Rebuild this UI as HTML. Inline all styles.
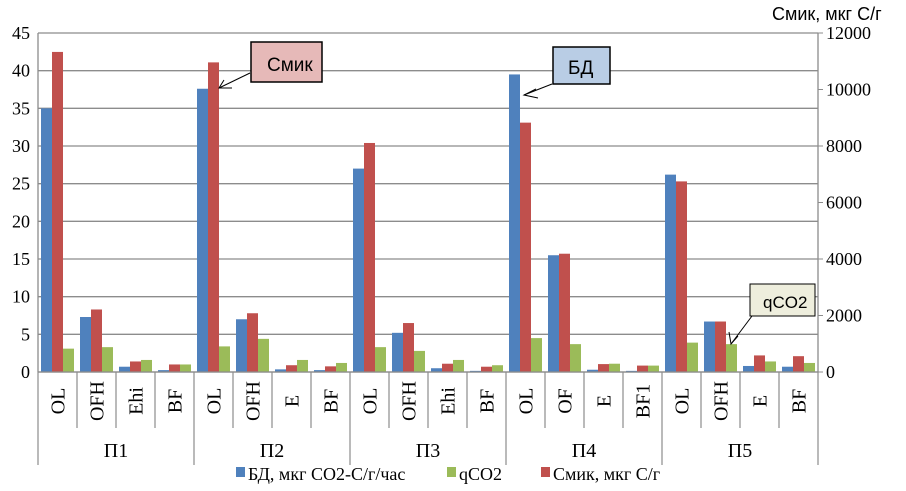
<!DOCTYPE html>
<html><head><meta charset="utf-8"><style>
body{margin:0;background:#fff;width:906px;height:486px;overflow:hidden}
svg text{font-family:"Liberation Serif",serif}
svg text.sans{font-family:"Liberation Sans","DejaVu Sans",sans-serif}
</style></head><body>
<svg id="chart" width="906" height="486">
<g id="grid"></g><g id="bars"></g><g id="axes"></g>
<text class="sans" x="772" y="20" font-size="18">Смик, мкг С/г</text>
<g>
<line x1="250" y1="73" x2="219" y2="88" stroke="#000" stroke-width="1"/>
<polyline points="224,80 219,88 232,88" fill="none" stroke="#000"/>
<rect x="251" y="42" width="71" height="40" fill="#e6b9b8" stroke="#000" stroke-width="1.5"/>
<text class="sans" x="267" y="71" font-size="19">Смик</text></g>
<g>
<line x1="552" y1="84" x2="524" y2="95" stroke="#000"/>
<polyline points="536,89 524,95 538,98" fill="none" stroke="#000"/>
<rect x="553" y="47" width="57" height="37" fill="#b9cde5" stroke="#000" stroke-width="1.5"/>
<text class="sans" x="568" y="74" font-size="19">БД</text></g>
<g>
<line x1="752" y1="316" x2="731" y2="344" stroke="#000"/>
<polyline points="729,332 731,344 738,336" fill="none" stroke="#000"/>
<rect x="750" y="284" width="65" height="32" fill="#eeeedd" stroke="#000" stroke-width="1"/>
<text class="sans" x="763" y="308" font-size="17">qCO2</text></g>
<g font-size="18">
<rect x="236" y="467" width="9" height="10" fill="#4f81bd"/><text x="248" y="480">БД, мкг СО2-С/г/час</text>
<rect x="447" y="467" width="9" height="10" fill="#9bbb59"/><text x="459" y="480">qCO2</text>
<rect x="541" y="467" width="9" height="10" fill="#c0504d"/><text x="553" y="480">Смик, мкг С/г</text>
</g>
</svg>
<script>
const groups=["П1","П2","П3","П4","П5"];
const categories=["OL","OFH","Ehi","BF","OL","OFH","E","BF","OL","OFH","Ehi","BF","OL","OF","E","BF1","OL","OFH","E","BF"];
const bdValues=[35,7.3,0.7,0.25,37.6,7.0,0.35,0.25,27.0,5.2,0.5,0.15,39.5,15.5,0.3,0.15,26.2,6.7,0.8,0.7];
const qco2Values=[3.1,3.3,1.6,1.0,3.4,4.4,1.6,1.2,3.3,2.8,1.6,0.9,4.5,3.7,1.1,0.85,3.9,3.7,1.4,1.2];
const smikValues=[11330,2213,373,267,10960,2080,240,200,8107,1733,293,187,8827,4187,280,227,6747,1787,587,560];
const leftTicks=[0,5,10,15,20,25,30,35,40,45];
const rightTicks=[0,2000,4000,6000,8000,10000,12000];
const X0=38,X1=818,Y0=372,Y1=33;
const cw=(X1-X0)/categories.length;
const yL=v=>Y0-(v/45)*(Y0-Y1);
const yR=v=>Y0-(v/12000)*(Y0-Y1);
const NS="http://www.w3.org/2000/svg";
function mk(tag,attrs,parent,txt){const e=document.createElementNS(NS,tag);for(const k in attrs)e.setAttribute(k,attrs[k]);if(txt!=null)e.textContent=txt;document.getElementById(parent).appendChild(e);return e;}
leftTicks.forEach(t=>{
 const g=mk("line",{x1:X0,x2:X1,y1:yL(t),y2:yL(t),stroke:"#8c8c8c","stroke-width":1.3},"grid");
 
 
 const l=mk("text",{x:30,y:yL(t)+6,"font-size":18,"text-anchor":"end"},"axes",t);
 
 
});
rightTicks.forEach(t=>{
 mk("line",{x1:X1,x2:X1+5,y1:yR(t),y2:yR(t),stroke:"#8c8c8c"},"axes");
 const l=mk("text",{x:826,y:yR(t)+6,"font-size":18},"axes",t);
 
 
});
mk("line",{x1:X0,x2:X0,y1:Y1,y2:Y0,stroke:"#8c8c8c","stroke-width":1.3},"axes");
mk("line",{x1:X1,x2:X1,y1:Y1,y2:Y0,stroke:"#8c8c8c","stroke-width":1.3},"axes");
const bw=11;
categories.forEach((c,i)=>{
 const cx=X0+i*cw+3;
 const b=mk("rect",{x:cx,y:yL(bdValues[i]),width:bw,height:Y0-yL(bdValues[i]),fill:"#4f81bd"},"bars");
 
 
 const r=mk("rect",{x:cx+bw,y:yR(smikValues[i]),width:bw,height:Y0-yR(smikValues[i]),fill:"#c0504d"},"bars");
 
 
 const g=mk("rect",{x:cx+2*bw,y:yL(qco2Values[i]),width:bw,height:Y0-yL(qco2Values[i]),fill:"#9bbb59"},"bars");
 
 
 const lx=X0+(i+0.5)*cw;
 const t=mk("text",{x:lx+7,y:401,"font-size":20,"text-anchor":"middle",transform:`rotate(-90 ${lx+7} 401)`},"axes",c);
 
 
});
for(let i=0;i<=categories.length;i++){
 const x=X0+i*cw;
 mk("line",{x1:x,x2:x,y1:Y0,y2:(i%4===0)?465:428,stroke:"#8c8c8c","stroke-width":1.2},"axes");
}
mk("line",{x1:X0,x2:X1,y1:Y0,y2:Y0,stroke:"#8c8c8c","stroke-width":1.3},"axes");
groups.forEach((g,i)=>{
 const t=mk("text",{x:X0+(i*4+2)*cw,y:457,"font-size":20,"text-anchor":"middle"},"axes",g);
 
 
});
</script>
</body></html>
